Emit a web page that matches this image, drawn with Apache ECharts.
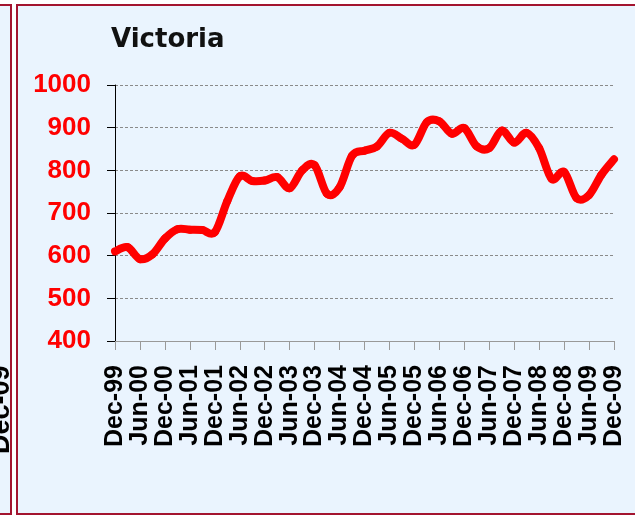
<!DOCTYPE html>
<html>
<head>
<meta charset="utf-8">
<script src="https://cdn.jsdelivr.net/npm/echarts@6/dist/echarts.min.js"></script>
<style>
    html, body { margin: 0; padding: 0; background: #ffffff; overflow: hidden; }
    #leftPanel {
        position: absolute; left: -20px; top: 4px; width: 28px; height: 507px;
        background: #eaf4fe; border: 2px solid #a3142f;
    }
    #mainPanel {
        position: absolute; left: 16px; top: 4px; width: 640px; height: 507px;
        background: #eaf4fe; border: 2px solid #a3142f;
    }
    #chart { position: absolute; left: 0; top: 0; width: 635px; height: 516px; }
</style>
</head>
<body>
<div id="leftPanel"></div>
<div id="mainPanel"></div>
<div id="chart"></div>
<script>
// quarterly points, Dec-99 .. Dec-09
const quarters = [
    'Dec-99', 'Mar-00', 'Jun-00', 'Sep-00', 'Dec-00', 'Mar-01', 'Jun-01', 'Sep-01',
    'Dec-01', 'Mar-02', 'Jun-02', 'Sep-02', 'Dec-02', 'Mar-03', 'Jun-03', 'Sep-03',
    'Dec-03', 'Mar-04', 'Jun-04', 'Sep-04', 'Dec-04', 'Mar-05', 'Jun-05', 'Sep-05',
    'Dec-05', 'Mar-06', 'Jun-06', 'Sep-06', 'Dec-06', 'Mar-07', 'Jun-07', 'Sep-07',
    'Dec-07', 'Mar-08', 'Jun-08', 'Sep-08', 'Dec-08', 'Mar-09', 'Jun-09', 'Sep-09',
    'Dec-09'
];
const victoria = [
    610, 620, 592, 603, 640, 662, 661, 660,
    655, 728, 786, 775, 776, 784, 758, 800,
    812, 745, 760, 834, 846, 856, 888, 874,
    860, 913, 915, 886, 899, 856, 852, 893,
    865, 888, 852, 780, 796, 735, 742, 790,
    826
];
const yTicks = { min: 400, max: 1000, step: 100 };

// excel-like smoothed segment between point i and i+1 (catmull-rom)
function renderSegment(params, api) {
    const i = params.dataIndex;
    const n = victoria.length;
    if (i >= n - 1) return null;
    const pt = (k) => {
        k = Math.max(0, Math.min(n - 1, k));
        return api.coord([k, victoria[k]]);
    };
    const p0 = pt(i - 1), p1 = pt(i), p2 = pt(i + 1), p3 = pt(i + 2);
    const t = 1 / 6;
    return {
        type: 'bezierCurve',
        shape: {
            x1: p1[0], y1: p1[1],
            x2: p2[0], y2: p2[1],
            cpx1: p1[0] + (p2[0] - p0[0]) * t,
            cpy1: p1[1] + (p2[1] - p0[1]) * t,
            cpx2: p2[0] - (p3[0] - p1[0]) * t,
            cpy2: p2[1] - (p3[1] - p1[1]) * t
        },
        style: { stroke: '#ff0000', lineWidth: 8, fill: null, lineCap: 'round' }
    };
}

let myChart = echarts.init(document.getElementById('chart'));
let option = {
    backgroundColor: 'transparent',
    animation: false,
    title: {
        text: 'Victoria',
        left: 106,
        top: 22,
        textStyle: {
            color: '#111',
            fontSize: 26,
            fontWeight: 'bold',
            fontFamily: 'DejaVu Sans'
        }
    },
    // cut-off label of the neighbouring panel
    graphic: [{
        type: 'text',
        x: -12,
        y: 454,
        rotation: Math.PI / 2,
        style: {
            text: 'Dec-09',
            fill: '#000',
            font: 'bold 27px "Liberation Sans"',
            textVerticalAlign: 'top'
        }
    }],
    grid: {
        left: 115,
        top: 85,
        right: 21,
        bottom: 175
    },
    xAxis: {
        type: 'category',
        data: quarters,
        boundaryGap: false,
        axisLine: { lineStyle: { color: '#999', width: 1 } },
        axisTick: { interval: 1, length: 9, lineStyle: { color: '#999' } },
        axisLabel: {
            interval: 1,
            rotate: 90,
            margin: 24,
            color: '#000',
            fontSize: 25,
            fontWeight: 'bold',
            fontFamily: 'Liberation Sans'
        },
        splitLine: { show: false }
    },
    yAxis: {
        type: 'value',
        min: yTicks.min,
        max: yTicks.max,
        interval: yTicks.step,
        axisLine: { show: true, lineStyle: { color: '#000', width: 1 } },
        axisTick: { show: true, length: 8, lineStyle: { color: '#000' } },
        axisLabel: {
            margin: 24,
            color: '#ff0000',
            fontSize: 26,
            fontWeight: 'bold',
            fontFamily: 'Liberation Sans',
            formatter: (v) => String(v)
        },
        splitLine: {
            lineStyle: { type: [3, 2], color: '#8a8a8a', width: 1 }
        }
    },
    series: [{
        type: 'custom',
        renderItem: renderSegment,
        data: victoria.map((v, i) => [i, v]),
        encode: { x: 0, y: 1 }
    }]
};
option && myChart.setOption(option);
</script>
</body>
</html>
